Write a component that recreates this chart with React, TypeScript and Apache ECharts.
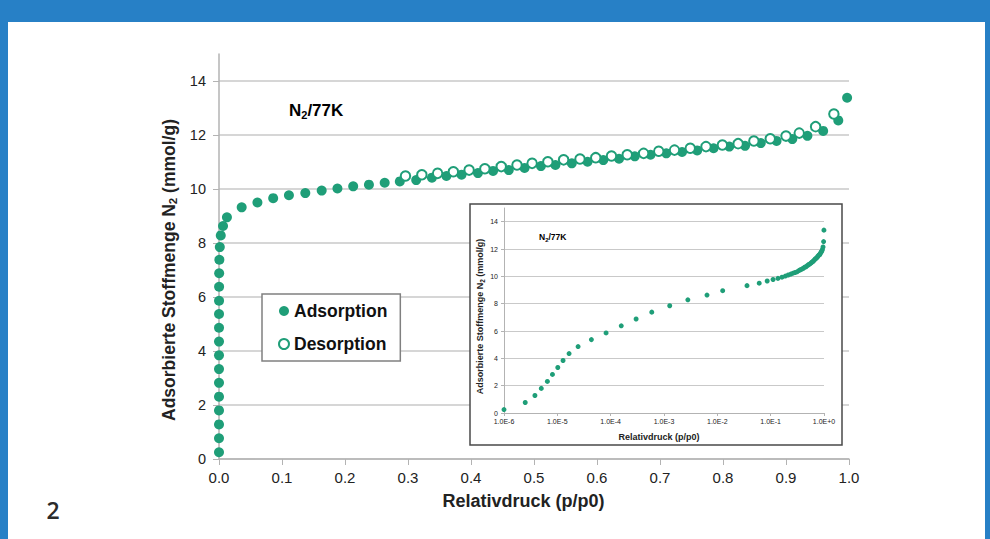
import React, { useEffect, useRef } from "react";
import * as echarts from "echarts";

// Adsorption isotherm (p/p0, n in mmol/g)
const adsorptionP = [
  1.0e-6, 2.5e-6, 3.8e-6, 5.0e-6, 6.5e-6, 8.1e-6, 1.02e-5, 1.28e-5, 1.66e-5, 2.45e-5,
  4.35e-5, 8.2e-5, 1.58e-4, 3.0e-4, 5.9e-4, 1.28e-3, 2.8e-3, 6.4e-3, 1.26e-2,
  0.036, 0.061, 0.086, 0.111, 0.137, 0.163, 0.188, 0.213, 0.238, 0.263, 0.287,
  0.313, 0.338, 0.361, 0.385, 0.411, 0.435, 0.46, 0.485, 0.511, 0.534, 0.56,
  0.585, 0.61, 0.635, 0.66, 0.685, 0.71, 0.735, 0.759, 0.785, 0.81, 0.835,
  0.86, 0.885, 0.91, 0.934, 0.959, 0.983, 0.997,
];
const adsorptionN = [
  0.25, 0.77, 1.28, 1.8, 2.31, 2.82, 3.33, 3.84, 4.35, 4.86,
  5.37, 5.86, 6.38, 6.88, 7.38, 7.85, 8.28, 8.63, 8.95,
  9.32, 9.5, 9.66, 9.77, 9.85, 9.94, 10.02, 10.1, 10.16, 10.23, 10.28,
  10.33, 10.42, 10.48, 10.53, 10.59, 10.67, 10.7, 10.78, 10.85, 10.89, 10.95,
  11.01, 11.07, 11.12, 11.21, 11.27, 11.32, 11.37, 11.43, 11.51, 11.57, 11.6,
  11.7, 11.78, 11.85, 11.97, 12.15, 12.54, 13.38,
];
// Desorption branch
const desorptionP = [
  0.296, 0.322, 0.347, 0.372, 0.397, 0.422, 0.448, 0.473, 0.497, 0.522, 0.547,
  0.573, 0.598, 0.623, 0.648, 0.674, 0.698, 0.723, 0.748, 0.773, 0.799, 0.824,
  0.849, 0.875, 0.9, 0.921, 0.947, 0.976,
];
const desorptionN = [
  10.48, 10.53, 10.58, 10.64, 10.7, 10.75, 10.83, 10.89, 10.95, 11.01, 11.08,
  11.11, 11.16, 11.22, 11.27, 11.32, 11.4, 11.44, 11.51, 11.57, 11.63, 11.68,
  11.78, 11.86, 11.96, 12.07, 12.31, 12.78,
];
const yTicks = [0, 2, 4, 6, 8, 10, 12, 14];
const seriesNames = ["Adsorption", "Desorption"];

const GREEN = "#1f9e78";
const FONT = "'Liberation Sans', Arial, sans-serif";
const TXT = "#222";
const GRID_C = "#c9c9c9";
const AXIS_C = "#b3b3b3";

export default function App() {
  const ref = useRef<HTMLDivElement>(null);
  useEffect(() => {
    if (!ref.current) return;
    const chart = echarts.init(ref.current, null, { renderer: "svg" });
    const ads = adsorptionP.map((p, i) => [p, adsorptionN[i]]);
    const des = desorptionP.map((p, i) => [p, desorptionN[i]]);
    const splitColors = [...yTicks.map(() => GRID_C), "rgba(0,0,0,0)"];
    const nameRich = (big: number, small: number) => ({
      a: { fontSize: big, fontWeight: "bold", fontFamily: FONT, color: TXT, lineHeight: big + 3 },
      b: { fontSize: small, fontWeight: "bold", fontFamily: FONT, color: TXT, verticalAlign: "bottom", lineHeight: small },
    });
    chart.setOption({
      animation: false,
      backgroundColor: "#2780c6",
      textStyle: { fontFamily: FONT },
      grid: [
        { left: 219, right: 141, top: 54, bottom: 80 },
        { left: 504, right: 166, top: 208, bottom: 126 },
      ],
      legend: {
        data: seriesNames,
        orient: "vertical",
        left: 262,
        top: 294,
        padding: [8, 13, 8, 16],
        itemGap: 15,
        itemWidth: 10,
        itemHeight: 10,
        icon: "circle",
        backgroundColor: "#fff",
        borderColor: "#808080",
        borderWidth: 1.5,
        textStyle: { fontSize: 17.5, fontWeight: "bold", color: "#111", fontFamily: FONT },
        z: 6,
      },
      xAxis: [
        {
          type: "value",
          gridIndex: 0,
          min: 0,
          max: 1,
          interval: 0.1,
          axisLine: { lineStyle: { color: AXIS_C, width: 1.5 } },
          axisTick: { show: true, length: 6, lineStyle: { color: AXIS_C } },
          splitLine: { show: false },
          axisLabel: {
            fontSize: 15,
            color: TXT,
            margin: 11,
            formatter: (v: number) => v.toFixed(1),
          },
          name: "Relativdruck (p/p0)",
          nameLocation: "middle",
          nameGap: 33,
          nameTextStyle: { fontSize: 18, fontWeight: "bold", color: TXT, padding: [0, 21, 0, 0] },
        },
        {
          type: "log",
          gridIndex: 1,
          logBase: 10,
          min: 1e-6,
          max: 1,
          splitNumber: 6,
          z: 3,
          axisLine: { lineStyle: { color: AXIS_C, width: 1 } },
          axisTick: { show: true, length: 3, lineStyle: { color: AXIS_C } },
          splitLine: { show: false },
          minorTick: { show: false },
          axisLabel: {
            fontSize: 7,
            color: TXT,
            margin: 5,
            formatter: (v: number) => v.toExponential(1).toUpperCase(),
          },
          name: "Relativdruck (p/p0)",
          nameLocation: "middle",
          nameGap: 19,
          nameTextStyle: { fontSize: 9, fontWeight: "bold", color: TXT, padding: [0, 10, 0, 0] },
        },
      ],
      yAxis: [
        {
          type: "value",
          gridIndex: 0,
          min: 0,
          max: 15,
          interval: 2,
          axisLine: { show: true, lineStyle: { color: AXIS_C, width: 1.5 } },
          axisTick: { show: true, length: 6, lineStyle: { color: AXIS_C }, customValues: yTicks },
          splitLine: { show: true, lineStyle: { color: splitColors, width: 1.5 } },
          axisLabel: { fontSize: 14.5, color: TXT, margin: 13, customValues: yTicks },
          name: "{a|Adsorbierte Stoffmenge N}{b|2}{a| (mmol/g)}",
          nameLocation: "middle",
          nameGap: 37,
          nameRotate: 90,
          nameTextStyle: { rich: nameRich(17.5, 11.5), padding: [0, 27, 0, 0] },
        },
        {
          type: "value",
          gridIndex: 1,
          min: 0,
          max: 15,
          interval: 2,
          z: 3,
          axisLine: { show: true, lineStyle: { color: AXIS_C, width: 1 } },
          axisTick: { show: true, length: 3, lineStyle: { color: AXIS_C }, customValues: yTicks },
          splitLine: { show: true, lineStyle: { color: splitColors, width: 1 } },
          axisLabel: { fontSize: 7, color: TXT, margin: 6, customValues: yTicks },
          name: "{a|Adsorbierte Stoffmenge N}{b|2}{a| (mmol/g)}",
          nameLocation: "middle",
          nameGap: 18,
          nameRotate: 90,
          nameTextStyle: { rich: nameRich(9, 6.5), padding: [0, 12, 0, 0] },
        },
      ],
      graphic: [
        {
          type: "rect",
          z: -10,
          silent: true,
          shape: { x: 8, y: 22, width: 977, height: 530 },
          style: { fill: "#fff" },
        },
        {
          type: "rect",
          z: 1,
          silent: true,
          shape: { x: 470, y: 204, width: 372, height: 241 },
          style: { fill: "#fff", stroke: "#4a4a4a", lineWidth: 1.5 },
        },
        {
          type: "text",
          z: 5,
          x: 289,
          y: 110,
          style: {
            text: "{a|N}{b|2}{a|/77K}",
            verticalAlign: "middle",
            rich: nameRich(17, 11),
          },
        },
        {
          type: "text",
          z: 5,
          x: 539,
          y: 237,
          style: {
            text: "{a|N}{b|2}{a|/77K}",
            verticalAlign: "middle",
            rich: nameRich(8.5, 6),
          },
        },
        {
          type: "text",
          z: 5,
          x: 53,
          y: 510,
          style: {
            text: "2",
            align: "center",
            verticalAlign: "middle",
            fontSize: 23,
            fontWeight: 600,
            fontFamily: "'Open Sans', 'Noto Sans', sans-serif",
            fill: "#2b2b2b",
          },
        },
      ],
      series: [
        {
          name: "Adsorption",
          type: "scatter",
          xAxisIndex: 0,
          yAxisIndex: 0,
          symbol: "circle",
          symbolSize: 10,
          itemStyle: { color: GREEN, opacity: 1 },
          data: ads,
          z: 2,
        },
        {
          name: "Desorption",
          type: "scatter",
          xAxisIndex: 0,
          yAxisIndex: 0,
          symbol: "circle",
          symbolSize: 9.5,
          itemStyle: { color: "#fff", borderColor: GREEN, borderWidth: 2, opacity: 1 },
          data: des,
          z: 3,
        },
        {
          name: "Adsorption (log)",
          type: "scatter",
          xAxisIndex: 1,
          yAxisIndex: 1,
          symbol: "circle",
          symbolSize: 5,
          itemStyle: { color: GREEN, opacity: 1 },
          data: ads,
          z: 4,
        },
      ],
    });
    return () => chart.dispose();
  }, []);
  return (
    <div
      ref={ref}
      style={{ position: "fixed", left: 0, top: 0, width: 990, height: 539 }}
    />
  );
}
